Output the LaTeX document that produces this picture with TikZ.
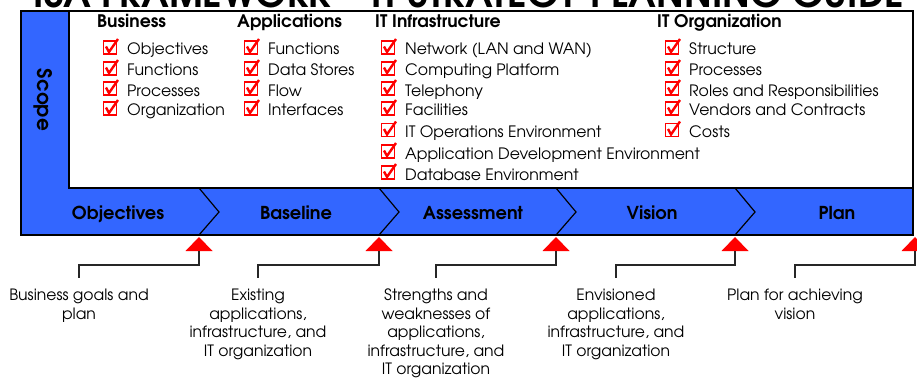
\documentclass[tikz,border=0pt]{standalone}
\usepackage{fontspec}
\setmainfont{TeX Gyre Adventor}
\usetikzlibrary{positioning}

\definecolor{barblue}{RGB}{51,102,255}

\tikzset{
    item/.style={anchor=base west, inner sep=0pt, font=\fontsize{15.7}{18}\selectfont},
    head/.style={anchor=base west, inner sep=0pt, font=\bfseries\fontsize{17.3}{18}\selectfont},
    stage/.style={anchor=base, inner sep=0pt, font=\bfseries\fontsize{17.8}{18}\selectfont},
    note/.style={anchor=north, align=center, inner xsep=0pt, inner ysep=11pt, font=\fontsize{15.6}{18.5}\selectfont},
    leader/.style={draw=black!85, line width=1.2pt},
    chkbox/.pic={
        \draw[red, line width=1.7pt] (-6.5,-6.5) rectangle (6.5,6.5);
        \draw[red, line width=2.4pt, line join=miter] (-4,-1) -- (-1,4.5) -- (8,-8.5);
    }
}

\begin{document}
\begin{tikzpicture}[x=1pt, y=-1pt]
        \useasboundingbox (0,0) rectangle (917,377);
        \clip (0,0) rectangle (917,377);

        %Titel
        \node[anchor=base, inner sep=0pt, font=\bfseries\fontsize{37.5}{38}\selectfont] (title) at (469,8) {ISA FRAMEWORK -- IT STRATEGY PLANNING GUIDE};

        %Rahmen
        \fill[barblue] (21,11) -- (69,11) -- (69,188) -- (913,188) -- (913,235) -- (21,235) -- cycle;
        \draw[line width=1.4pt, fill=white] (69,11) rectangle (913,188);
        \draw[line width=1.2pt] (199,188) -- (219,212) -- (199,235);
        \draw[line width=1.2pt] (379,188) -- (399,212) -- (379,235);
        \draw[line width=1.2pt] (556,188) -- (576,212) -- (556,235);
        \draw[line width=1.2pt] (735,188) -- (755,212) -- (735,235);
        \draw[line width=2pt] (21,11) rectangle (913,235);

        \node[inner sep=0pt, rotate=-90, font=\bfseries\fontsize{20}{20}\selectfont] (scope) at (43,100) {Scope};

        %Business
        \node[head] (bus) at (97,28) {Business};
        \node[item] (b1) at (127,55) {Objectives};
        \node[item] (b2) at (127,76) {Functions};
        \node[item] (b3) at (127,96) {Processes};
        \node[item] (b4) at (127,116) {Organization};

        %Applications
        \node[head] (app) at (237,28) {Applications};
        \node[item] (a1) at (268,55) {Functions};
        \node[item] (a2) at (268,76) {Data Stores};
        \node[item] (a3) at (268,96) {Flow};
        \node[item] (a4) at (268,116) {Interfaces};

        %IT Infrastructure
        \node[head] (inf) at (375,28) {IT Infrastructure};
        \node[item] (i1) at (405,55) {Network (LAN and WAN)};
        \node[item] (i2) at (405,76) {Computing Platform};
        \node[item] (i3) at (405,96) {Telephony};
        \node[item] (i4) at (405,116) {Facilities};
        \node[item] (i5) at (405,137.5) {IT Operations Environment};
        \node[item] (i6) at (405,159) {Application Development Environment};
        \node[item] (i7) at (405,180) {Database Environment};

        %IT Organization
        \node[head] (org) at (657,28) {IT Organization};
        \node[item] (o1) at (689,55) {Structure};
        \node[item] (o2) at (689,76) {Processes};
        \node[item] (o3) at (689,96) {Roles and Responsibilities};
        \node[item] (o4) at (689,116) {Vendors and Contracts};
        \node[item] (o5) at (689,137.5) {Costs};

        \pic at ([xshift=-17pt, yshift=7.5pt]b1.base west) {chkbox};
        \pic at ([xshift=-17pt, yshift=7.5pt]b2.base west) {chkbox};
        \pic at ([xshift=-17pt, yshift=7.5pt]b3.base west) {chkbox};
        \pic at ([xshift=-17pt, yshift=7.5pt]b4.base west) {chkbox};
        \pic at ([xshift=-17pt, yshift=7.5pt]a1.base west) {chkbox};
        \pic at ([xshift=-17pt, yshift=7.5pt]a2.base west) {chkbox};
        \pic at ([xshift=-17pt, yshift=7.5pt]a3.base west) {chkbox};
        \pic at ([xshift=-17pt, yshift=7.5pt]a4.base west) {chkbox};
        \pic at ([xshift=-17pt, yshift=7.5pt]i1.base west) {chkbox};
        \pic at ([xshift=-17pt, yshift=7.5pt]i2.base west) {chkbox};
        \pic at ([xshift=-17pt, yshift=7.5pt]i3.base west) {chkbox};
        \pic at ([xshift=-17pt, yshift=7.5pt]i4.base west) {chkbox};
        \pic at ([xshift=-17pt, yshift=7.5pt]i5.base west) {chkbox};
        \pic at ([xshift=-17pt, yshift=7.5pt]i6.base west) {chkbox};
        \pic at ([xshift=-17pt, yshift=7.5pt]i7.base west) {chkbox};
        \pic at ([xshift=-17pt, yshift=7.5pt]o1.base west) {chkbox};
        \pic at ([xshift=-17pt, yshift=7.5pt]o2.base west) {chkbox};
        \pic at ([xshift=-17pt, yshift=7.5pt]o3.base west) {chkbox};
        \pic at ([xshift=-17pt, yshift=7.5pt]o4.base west) {chkbox};
        \pic at ([xshift=-17pt, yshift=7.5pt]o5.base west) {chkbox};

        %Phasen
        \node[stage] (s1) at (118,219.5) {Objectives};
        \node[stage] (s2) at (296,219.5) {Baseline};
        \node[stage] (s3) at (473,219.5) {Assessment};
        \node[stage] (s4) at (652,219.5) {Vision};
        \node[stage] (s5) at (837,219.5) {Plan};

        %Marker
        \fill[red] (199,237) -- (212.5,251) -- (185.5,251) -- cycle;
        \fill[red] (379,237) -- (392.5,251) -- (365.5,251) -- cycle;
        \fill[red] (556,237) -- (569.5,251) -- (542.5,251) -- cycle;
        \fill[red] (735,237) -- (748.5,251) -- (721.5,251) -- cycle;
        \fill[red] (915,237) -- (928.5,251) -- (901.5,251) -- cycle;
        \coordinate (m1) at (199,251);
        \coordinate (m2) at (379,251);
        \coordinate (m3) at (556,251);
        \coordinate (m4) at (735,251);
        \coordinate (m5) at (915,251);

        %Ergebnisse
        \node[note] (d1) at (79,278) {Business goals and\\plan};
        \node[note] (d2) at (258,278) {Existing\\applications,\\infrastructure, and\\IT organization};
        \node[note] (d3) at (436,278) {Strengths and\\weaknesses of\\applications,\\infrastructure, and\\IT organization};
        \node[note] (d4) at (616,278) {Envisioned\\applications,\\infrastructure, and\\IT organization};
        \node[note] (d5) at (795,278) {Plan for achieving\\vision};

        \draw[leader] (m1) -- ++(0,14) -| (d1.north);
        \draw[leader] (m2) -- ++(0,14) -| (d2.north);
        \draw[leader] (m3) -- ++(0,14) -| (d3.north);
        \draw[leader] (m4) -- ++(0,14) -| (d4.north);
        \draw[leader] (m5) -- ++(0,14) -| (d5.north);

    \end{tikzpicture}
\end{document}
